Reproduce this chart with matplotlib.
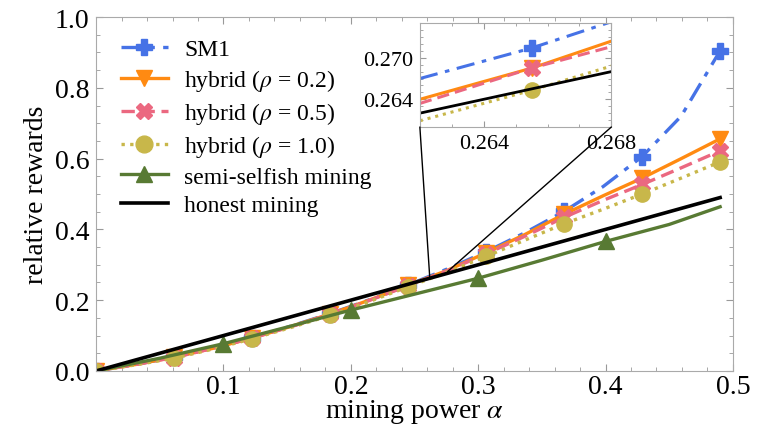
import matplotlib
matplotlib.use("Agg")
import matplotlib.pyplot as plt
from matplotlib.patches import ConnectionPatch
from matplotlib.ticker import MultipleLocator

plt.rcParams['font.family'] = ['Liberation Serif', 'DejaVu Serif']
plt.rcParams['mathtext.fontset'] = 'stix'

# main plot data
alpha = [0.0, 0.0306, 0.0613, 0.0919, 0.1225, 0.1531, 0.1838, 0.2144, 0.245,
         0.2756, 0.3063, 0.3369, 0.3675, 0.3981, 0.4288, 0.4594, 0.49]
sm1 = [0.0, 0.018, 0.039, 0.065, 0.094, 0.127, 0.162, 0.201, 0.243,
       0.288, 0.337, 0.391, 0.451, 0.521, 0.606, 0.720, 0.905]
hyb02 = [0.0, 0.018, 0.039, 0.064, 0.093, 0.126, 0.161, 0.200, 0.242,
         0.284, 0.334, 0.386, 0.443, 0.495, 0.545, 0.600, 0.656]
hyb05 = [0.0, 0.018, 0.038, 0.064, 0.093, 0.125, 0.160, 0.199, 0.241,
         0.283, 0.331, 0.381, 0.434, 0.482, 0.527, 0.574, 0.622]
hyb10 = [0.0, 0.017, 0.036, 0.062, 0.091, 0.123, 0.157, 0.196, 0.238,
         0.279, 0.324, 0.370, 0.416, 0.457, 0.500, 0.545, 0.591]

alpha_semi = [0.0, 0.05, 0.1, 0.15, 0.2, 0.25, 0.3, 0.35, 0.4, 0.45, 0.49]
semi = [0.0, 0.036, 0.077, 0.124, 0.172, 0.217, 0.262, 0.313, 0.366, 0.414, 0.464]

alpha_honest = [0.0, 0.49]
honest = [0.0, 0.49]

# inset data
alpha_in = [0.262, 0.2655, 0.268]
sm1_in = [0.2670, 0.2714, 0.2752]
hyb02_in = [0.2640, 0.2685, 0.2724]
hyb05_in = [0.2634, 0.2685, 0.2716]
hyb10_in = [0.2609, 0.2653, 0.2688]
honest_in = [0.262, 0.2655, 0.268]

c_sm1 = '#4672e6'
c_h02 = '#ff8a12'
c_h05 = '#eb6880'
c_h10 = '#c8b74a'
c_semi = '#587a33'

fig = plt.figure(figsize=(7.69, 4.31), dpi=100)
ax = fig.add_axes([0.125, 0.137, 0.828, 0.821])

every = slice(0, None, 2)
ax.plot(alpha, sm1, color=c_sm1, lw=2.4, ls=(0, (6, 2.5, 1.5, 2.5)), marker='P', ms=11,
        markevery=every, label='SM1')
ax.plot(alpha, hyb02, color=c_h02, lw=2.4, ls='-', marker='v', ms=11,
        markevery=every, label=r'hybrid ($\rho$ = 0.2)')
ax.plot(alpha, hyb05, color=c_h05, lw=2.4, ls=(0, (4, 2)), marker='X', ms=11,
        markevery=every, label=r'hybrid ($\rho$ = 0.5)')
ax.plot(alpha, hyb10, color=c_h10, lw=2.4, ls=(0, (1, 1.6)), marker='o', ms=11,
        markevery=every, label=r'hybrid ($\rho$ = 1.0)')
ax.plot(alpha_semi, semi, color=c_semi, lw=2.4, ls='-', marker='^', ms=11,
        markevery=[2, 4, 6, 8], label='semi-selfish mining')
ax.plot(alpha_honest, honest, color='black', lw=2.6, label='honest mining')

ax.set_xlim(0, 0.5)
ax.set_ylim(0, 1.0)
ax.set_xticks([0.1, 0.2, 0.3, 0.4, 0.5])
ax.set_yticks([0.0, 0.2, 0.4, 0.6, 0.8, 1.0])
ax.xaxis.set_minor_locator(MultipleLocator(0.02))
ax.yaxis.set_minor_locator(MultipleLocator(0.05))
ax.tick_params(which='both', direction='in', top=True, right=True, color='#999999',
               labelsize=20)
ax.tick_params(axis='x', pad=2)
ax.tick_params(axis='y', pad=5)
ax.tick_params(which='major', length=5)
ax.tick_params(which='minor', length=3)
for s in ax.spines.values():
    s.set_color('#aaaaaa')
ax.set_xlabel(r'mining power $\alpha$', fontsize=20, labelpad=-1)
ax.set_ylabel('relative rewards', fontsize=20, labelpad=4)

ax.legend(loc='upper left', bbox_to_anchor=(0.005, 1.0), frameon=False, fontsize=17,
          handlelength=2.0, handletextpad=0.7, labelspacing=0.3, numpoints=1,
          markerscale=1.1)

# inset
axin = fig.add_axes([0.546, 0.703, 0.249, 0.241])
axin.plot(alpha_in, sm1_in, color=c_sm1, lw=2.2, ls=(0, (6, 2.5, 1.5, 2.5)), marker='P',
          ms=11, markevery=[1])
axin.plot(alpha_in, hyb02_in, color=c_h02, lw=2.2, marker='v', ms=11, markevery=[1])
axin.plot(alpha_in, hyb05_in, color=c_h05, lw=2.2, ls=(0, (4, 2)), marker='X', ms=11,
          markevery=[1])
axin.plot(alpha_in, hyb10_in, color=c_h10, lw=2.2, ls=(0, (1, 1.6)), marker='o', ms=11,
          markevery=[1])
axin.plot(alpha_in, honest_in, color='black', lw=2.0)
axin.set_xlim(0.262, 0.268)
axin.set_ylim(0.260, 0.275)
axin.set_xticks([0.264, 0.268])
axin.set_yticks([0.264, 0.270])
axin.set_xticklabels(['0.264', '0.268'])
axin.set_yticklabels(['0.264', '0.270'])
axin.xaxis.set_minor_locator(MultipleLocator(0.001))
axin.yaxis.set_minor_locator(MultipleLocator(0.001))
axin.tick_params(which='both', direction='in', top=True, right=True, color='#999999',
                 labelsize=16, pad=5)
axin.tick_params(which='major', length=4)
axin.tick_params(which='minor', length=2)
for s in axin.spines.values():
    s.set_color('#aaaaaa')

# connector lines from inset to zoomed spot
for xa, xb, yb in [(0.0, 0.262, 0.263), (1.0, 0.276, 0.281)]:
    con = ConnectionPatch(xyA=(xa, 0.0), coordsA=axin.transAxes,
                          xyB=(xb, yb), coordsB=ax.transData,
                          color='black', lw=1.0)
    fig.add_artist(con)

plt.savefig('out.png', dpi=100, facecolor='w')
